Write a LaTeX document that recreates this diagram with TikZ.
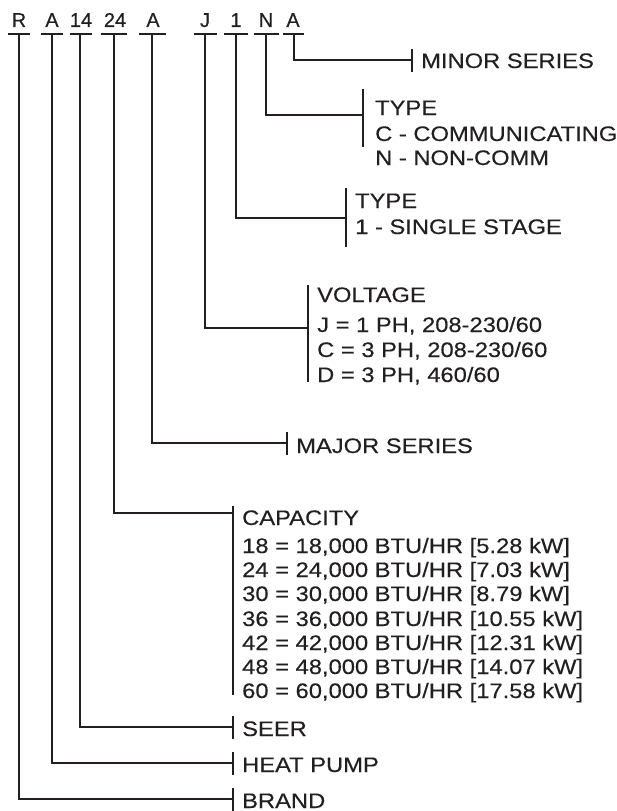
\documentclass[tikz,border=0pt]{standalone}
\usepackage{fontspec}
\setmainfont{Liberation Sans}[FakeStretch=1.13, FakeBold=0.3]
\newfontfamily\codefont{Liberation Sans}[FakeBold=0.3]
\definecolor{ink}{HTML}{231F20}
\tikzset{
  lbl/.style={anchor=base west, inner sep=0pt, text=ink, font=\fontsize{21}{24}\selectfont},
  code/.style={anchor=base, inner sep=0pt, text=ink, font=\codefont\fontsize{20}{23}\selectfont},
  lead/.style={draw=ink, line width=2.8pt},
}
\begin{document}
\begin{tikzpicture}[x=1pt, y=-1pt]
            \useasboundingbox (0,0) rectangle (616,811);

            %% model number
            \node[code] (cR) at (19,27) {R};
            \node[code] (cA1) at (52,27) {A};
            \node[code] (c14) at (81,27) {14};
            \node[code] (c24) at (115,27) {24};
            \node[code] (cA2) at (153,27) {A};
            \node[code] (cJ) at (205,27) {J};
            \node[code] (c1) at (236,27) {1};
            \node[code] (cN) at (266,27) {N};
            \node[code] (cA3) at (293,27) {A};

            \coordinate (tR) at (19,34);
            \coordinate (tA1) at (52,34);
            \coordinate (t14) at (80,34);
            \coordinate (t24) at (114,34);
            \coordinate (tA2) at (152,34);
            \coordinate (tJ) at (205,34);
            \coordinate (t1) at (236,34);
            \coordinate (tN) at (266,34);
            \coordinate (tA3) at (294,34);

            %% bars under the letters
            \draw[lead] (8,34) to (30,34);
            \draw[lead] (41,34) to (63,34);
            \draw[lead] (70,34) to (92,34);
            \draw[lead] (101,34) to (127,34);
            \draw[lead] (139,34) to (166,34);
            \draw[lead] (194,34) to (217,34);
            \draw[lead] (224,34) to (248,34);
            \draw[lead] (254,34) to (279,34);
            \draw[lead] (283,34) to (304,34);

            %% ticks
            \draw[lead] (412,49) to (412,72);
            \coordinate (kMinor) at (412,60);
            \draw[lead] (363,89) to (363,147);
            \coordinate (kTypeN) at (363,115);
            \draw[lead] (346,188) to (346,247);
            \coordinate (kType1) at (346,218);
            \draw[lead] (308,285) to (308,382);
            \coordinate (kVolt) at (308,328);
            \draw[lead] (287,432) to (287,455);
            \coordinate (kMajor) at (287,443);
            \draw[lead] (233,506) to (233,695);
            \coordinate (kCap) at (233,513);
            \draw[lead] (233,716) to (233,739);
            \coordinate (kSeer) at (233,727);
            \draw[lead] (233,752) to (233,775);
            \coordinate (kHeat) at (233,763);
            \draw[lead] (233,788) to (233,811);
            \coordinate (kBrand) at (233,799);

            %% leads
            \draw[lead] (tA3) |- (kMinor);
            \draw[lead] (tN) |- (kTypeN);
            \draw[lead] (t1) |- (kType1);
            \draw[lead] (tJ) |- (kVolt);
            \draw[lead] (tA2) |- (kMajor);
            \draw[lead] (t24) |- (kCap);
            \draw[lead] (t14) |- (kSeer);
            \draw[lead] (tA1) |- (kHeat);
            \draw[lead] (tR) |- (kBrand);

            %% labels
            \node[lbl] (minor) at (421,68) {MINOR SERIES};

            \node[lbl] (typeN) at (375,115) {TYPE};
            \node[lbl] (typeC) at (375,141) {C - COMMUNICATING};
            \node[lbl] (typeNN) at (375,165) {N - NON-COMM};

            \node[lbl] (type1) at (355,208) {TYPE};
            \node[lbl] (single) at (355,234) {1 - SINGLE STAGE};

            \node[lbl] (volt) at (317,302) {VOLTAGE};
            \node[lbl] (voltJ) at (317,332) {J = 1 PH, 208-230/60};
            \node[lbl] (voltC) at (317,357) {C = 3 PH, 208-230/60};
            \node[lbl] (voltD) at (317,382) {D = 3 PH, 460/60};

            \node[lbl] (major) at (296,453) {MAJOR SERIES};

            \node[lbl] (cap) at (242,525) {CAPACITY};
            \node[lbl] (cap18) at (242,553) {18 = 18,000 BTU/HR [5.28 kW]};
            \node[lbl] (cap24) at (242,577) {24 = 24,000 BTU/HR [7.03 kW]};
            \node[lbl] (cap30) at (242,601) {30 = 30,000 BTU/HR [8.79 kW]};
            \node[lbl] (cap36) at (242,626) {36 = 36,000 BTU/HR [10.55 kW]};
            \node[lbl] (cap42) at (242,650) {42 = 42,000 BTU/HR [12.31 kW]};
            \node[lbl] (cap48) at (242,674) {48 = 48,000 BTU/HR [14.07 kW]};
            \node[lbl] (cap60) at (242,698) {60 = 60,000 BTU/HR [17.58 kW]};

            \node[lbl] (seer) at (242,736) {SEER};
            \node[lbl] (heat) at (242,772) {HEAT PUMP};
            \node[lbl] (brand) at (242,808) {BRAND};
\end{tikzpicture}
\end{document}
